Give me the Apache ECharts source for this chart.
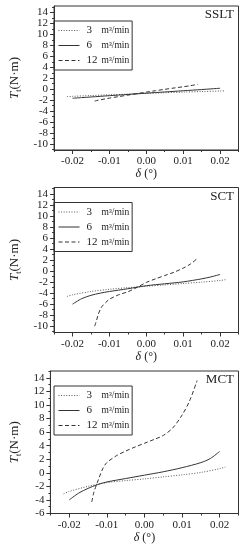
<!DOCTYPE html>
<html><head><meta charset="utf-8">
<script src="https://cdn.jsdelivr.net/npm/echarts@6/dist/echarts.min.js"></script>
<style>html,body{margin:0;padding:0;background:#fff}#c{width:246px;height:550px}</style>
</head><body><div id="c"></div>
<script>
// x positions (degrees)
const x3 = [-0.0215,-0.02,-0.015,-0.01,-0.005,0,0.005,0.01,0.015,0.02,0.0215];
const x6 = [-0.02,-0.0175,-0.015,-0.0125,-0.01,-0.005,0,0.005,0.01,0.015,0.0175,0.02];
const x12 = [-0.014,-0.0135,-0.013,-0.0125,-0.012,-0.011,-0.01,-0.0075,-0.005,-0.0025,0,0.0025,0.005,0.0075,0.01,0.012,0.014];
// SSLT
const sslt3 = [-1.35,-1.3,-1.15,-1.02,-0.9,-0.77,-0.64,-0.53,-0.43,-0.33,-0.3];
const sslt6 = [-1.65,-1.53,-1.42,-1.3,-1.18,-0.95,-0.72,-0.5,-0.28,-0.06,0.06,0.18];
const sslt12 = [-2.15,-2.08,-2.0,-1.94,-1.88,-1.75,-1.62,-1.35,-1.08,-0.8,-0.53,-0.27,-0.02,0.22,0.45,0.65,0.9];
// SCT
const sct3 = [-4.6,-4.3,-3.7,-3.3,-3.0,-2.75,-2.5,-2.25,-2.0,-1.7,-1.55];
const sct6 = [-6.0,-5.0,-4.4,-4.0,-3.7,-3.2,-2.65,-2.3,-1.95,-1.4,-1.05,-0.6];
const sct12 = [-10,-9.0,-7.8,-7.0,-6.4,-5.7,-5.1,-4.3,-3.75,-2.95,-2.05,-1.4,-0.8,-0.2,0.55,1.3,2.4];
// MCT
const mct3 = [-3.1,-2.75,-2.0,-1.45,-1.15,-0.9,-0.6,-0.3,0.05,0.6,0.85];
const mct6 = [-4.0,-3.0,-2.3,-1.75,-1.35,-0.85,-0.35,0.15,0.75,1.5,2.1,3.15];
const mct12 = [-4.3,-3.0,-2.15,-1.4,-0.65,0.7,1.5,2.5,3.2,3.8,4.35,4.9,5.5,6.6,8.5,10.6,13.6];
// ticks
const xMajor = [-0.02,-0.01,0,0.01,0.02];
const xMinor = [-0.025,-0.015,-0.005,0.005,0.015,0.025];
const yMajorA = [-10,-8,-6,-4,-2,0,2,4,6,8,10,12,14];
const yMinorA = [-11,-9,-7,-5,-3,-1,1,3,5,7,9,11,13,15];
const yMajorB = [-6,-4,-2,0,2,4,6,8,10,12,14];
const yMinorB = [-5,-3,-1,1,3,5,7,9,11,13,15];
const names = ['3','6','12'];
const panels = ['SSLT','SCT','MCT'];

const zip = (xs, ys) => xs.map((x, i) => [x, ys[i]]);
const FONT = 'Liberation Serif';
const grids = [
  {left: 41, width: 197.5, top: 6, height: 144},
  {left: 41, width: 197.5, top: 187.5, height: 145},
  {left: 41, width: 197.5, top: 371, height: 142.5}
];
const yRanges = [[-11.1, 15.2], [-11.15, 15.2], [-6, 15]];
const yMaj = [yMajorA, yMajorA, yMajorB];
const yMin = [yMinorA, yMinorA, yMinorB];
const dataSets = [[sslt3, sslt6, sslt12], [sct3, sct6, sct12], [mct3, mct6, mct12]];
const xsets = [x3, x6, x12];
const styles = [
  {color: '#555', width: 1, type: [1, 1.6]},
  {color: '#333', width: 1, type: 'solid'},
  {color: '#333', width: 1, type: [4, 2.5]}
];

const xAxis = [], yAxis = [], series = [], legend = [], graphic = [];
for (let p = 0; p < 3; p++) {
  xAxis.push({
    type: 'value', gridIndex: p, min: -0.025, max: 0.025,
    splitLine: {show: false},
    axisLine: {onZero: false, lineStyle: {color: '#333'}},
    axisTick: {customValues: xMajor, length: 4, lineStyle: {color: '#333'}},
    axisLabel: {customValues: xMajor, fontFamily: FONT, fontSize: 11, color: '#222', margin: 6,
      formatter: v => v.toFixed(2)},
    name: '{d|δ}{n| (°)}', nameLocation: 'middle', nameGap: 17,
    nameTextStyle: {rich: {
      d: {fontFamily: FONT, fontStyle: 'italic', fontSize: 12, color: '#222'},
      n: {fontFamily: FONT, fontSize: 12, color: '#222'}}}
  });
  yAxis.push({
    type: 'value', gridIndex: p, min: yRanges[p][0], max: yRanges[p][1],
    splitLine: {show: false},
    axisLine: {show: true, onZero: false, lineStyle: {color: '#333'}},
    axisTick: {customValues: yMaj[p], length: 4, lineStyle: {color: '#333'}},
    axisLabel: {customValues: yMaj[p], fontFamily: FONT, fontSize: 11, color: '#222', margin: 6},
    name: '{i|T}{s|t}{n|(N·m)}', nameLocation: 'middle', nameGap: 24, nameRotate: 90,
    nameTextStyle: {rich: {
      i: {fontFamily: FONT, fontStyle: 'italic', fontSize: 13, color: '#222', lineHeight: 16},
      s: {fontFamily: FONT, fontSize: 8, color: '#222', verticalAlign: 'bottom', lineHeight: 16},
      n: {fontFamily: FONT, fontSize: 13, color: '#222', lineHeight: 16}}}
  });
  for (let k = 0; k < 3; k++) {
    series.push({
      type: 'line', name: names[k], xAxisIndex: p, yAxisIndex: p,
      data: zip(xsets[k], dataSets[p][k]), smooth: 0.3, symbol: 'none',
      lineStyle: styles[k], itemStyle: {color: styles[k].color}, silent: true, animation: false
    });
  }
  legend.push({
    orient: 'vertical', left: 54, top: grids[p].top + 15, data: names,
    padding: [4, 3, 4, 4], itemGap: 4, itemWidth: 21, itemHeight: 10,
    borderColor: '#333', borderWidth: 1, borderRadius: 0,
    selectedMode: false,
    itemStyle: {opacity: 0},
    lineStyle: {width: 1},
    formatter: n => '{n|' + n + '}{u|m³/min}',
    textStyle: {rich: {
      n: {fontFamily: FONT, fontSize: 11, color: '#222', width: 15, padding: [0, 0, 0, 2]},
      u: {fontFamily: FONT, fontSize: 9.5, color: '#222'}}}
  });
  graphic.push({
    type: 'text', x: 234, y: grids[p].top + 9,
    style: {text: panels[p], fontFamily: FONT, fontSize: 13, fill: '#222', textAlign: 'right', textVerticalAlign: 'middle'}
  });
}
// minor tick axes
for (let p = 0; p < 3; p++) {
  xAxis.push({
    type: 'value', gridIndex: p, min: -0.025, max: 0.025, position: 'bottom',
    splitLine: {show: false}, axisLine: {show: false, onZero: false}, axisLabel: {show: false},
    axisTick: {customValues: xMinor, length: 2, lineStyle: {color: '#333'}}
  });
  yAxis.push({
    type: 'value', gridIndex: p, min: yRanges[p][0], max: yRanges[p][1], position: 'left',
    splitLine: {show: false}, axisLine: {show: false, onZero: false}, axisLabel: {show: false},
    axisTick: {customValues: yMin[p], length: 2, lineStyle: {color: '#333'}}
  });
}
const chart = echarts.init(document.getElementById('c'), null, {renderer: 'canvas'});
chart.setOption({
  animation: false,
  grid: grids.map(g => Object.assign({show: true, borderColor: '#333', borderWidth: 1, backgroundColor: 'transparent'}, g)),
  xAxis, yAxis, series, legend, graphic
});
</script></body></html>
